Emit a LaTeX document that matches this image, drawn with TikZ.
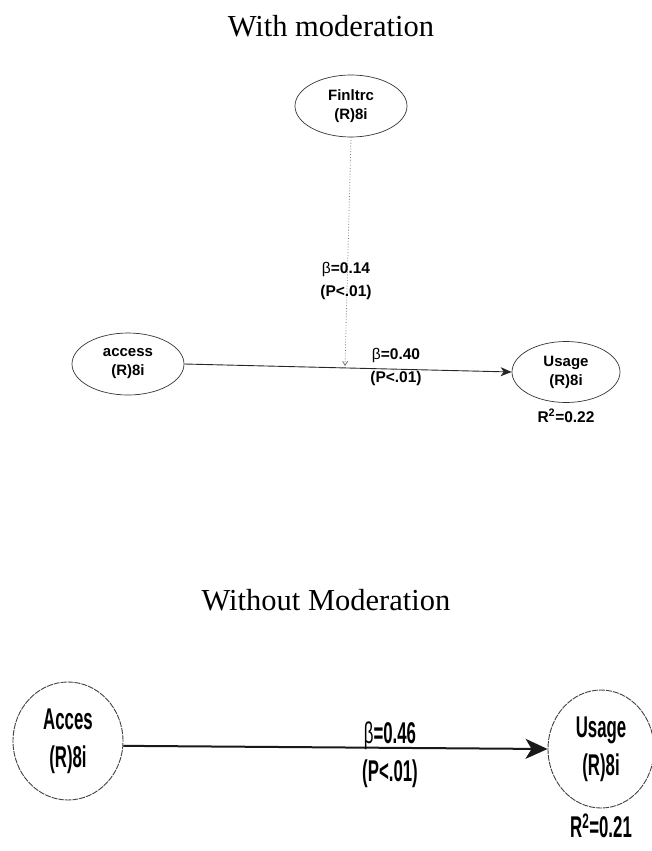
\documentclass[tikz,border=0pt]{standalone}
\usepackage{fontspec}
\setmainfont{Liberation Serif}
\newfontfamily\labelfont{Liberation Sans}
\newfontfamily\narrowfont[FakeStretch=0.56]{Liberation Sans}
\usetikzlibrary{shapes.geometric,arrows.meta}
\begin{document}
\begin{tikzpicture}[x=1pt,y=-1pt,
  latent/.style={ellipse,draw=black!80,line width=0.7pt,inner sep=0pt,align=center,
    font=\labelfont\bfseries\fontsize{15}{19}\selectfont},
  bigvar/.style={ellipse,draw=black!75,line width=0.9pt,dash pattern=on 6pt off 1pt,inner sep=0pt,align=center,
    font=\narrowfont\bfseries\fontsize{30}{38}\selectfont},
  coef/.style={align=center,font=\labelfont\bfseries\fontsize{15.5}{23}\selectfont},
  bigcoef/.style={align=center,font=\narrowfont\bfseries\fontsize{30}{36}\selectfont},
  heading/.style={font=\fontsize{30.5}{34}\selectfont}]
\useasboundingbox (0,0) rectangle (651,851);

% --- model with moderator ---
\node[heading] (t1) at (331,26) {With moderation};
\node[latent,minimum width=112pt,minimum height=62pt] (fin) at (351,106) {Finltrc\\(R)8i};
\node[latent,minimum width=112pt,minimum height=62pt] (acc) at (128,364) {access\\(R)8i};
\node[latent,minimum width=108pt,minimum height=61pt] (use) at (566,372) {Usage\\(R)8i};
\coordinate (mod) at (345,366);
\draw[black!85,line width=0.9pt,-{Stealth[length=11pt,width=9pt,inset=3pt]}] (acc.east) -- (use.west);
\draw[black!55,line width=0.8pt,dotted,-{Straight Barb[length=4pt,width=5pt]}] (fin.south) -- (mod);
\node[coef] (b1) at (346,281) {{\mdseries β}=0.14\\(P<.01)};
\node[coef] (b2) at (396,367) {{\mdseries β}=0.40\\(P<.01)};
\node[coef,anchor=north] (r1) at ([yshift=-3pt]use.south) {R\textsuperscript{2}=0.22};

% --- model without moderator ---
\node[heading] (t2) at (326,600) {Without Moderation};
\node[bigvar,minimum width=110pt,minimum height=118pt] (acc2) at (68,741) {Acces\\(R)8i};
\node[bigvar,minimum width=106pt,minimum height=118pt] (use2) at (601,749) {Usage\\(R)8i};
\draw[black!90,line width=2pt,-{Stealth[length=22pt,width=20pt,inset=6pt]}] (acc2.-5) -- (use2.180);
\node[bigcoef] (b3) at (390,755) {{\mdseries β}=0.46\\[2pt](P<.01)};
\node[bigcoef,anchor=north] (r2) at ([yshift=-2pt]use2.south) {R\textsuperscript{2}=0.21};
\end{tikzpicture}
\end{document}
